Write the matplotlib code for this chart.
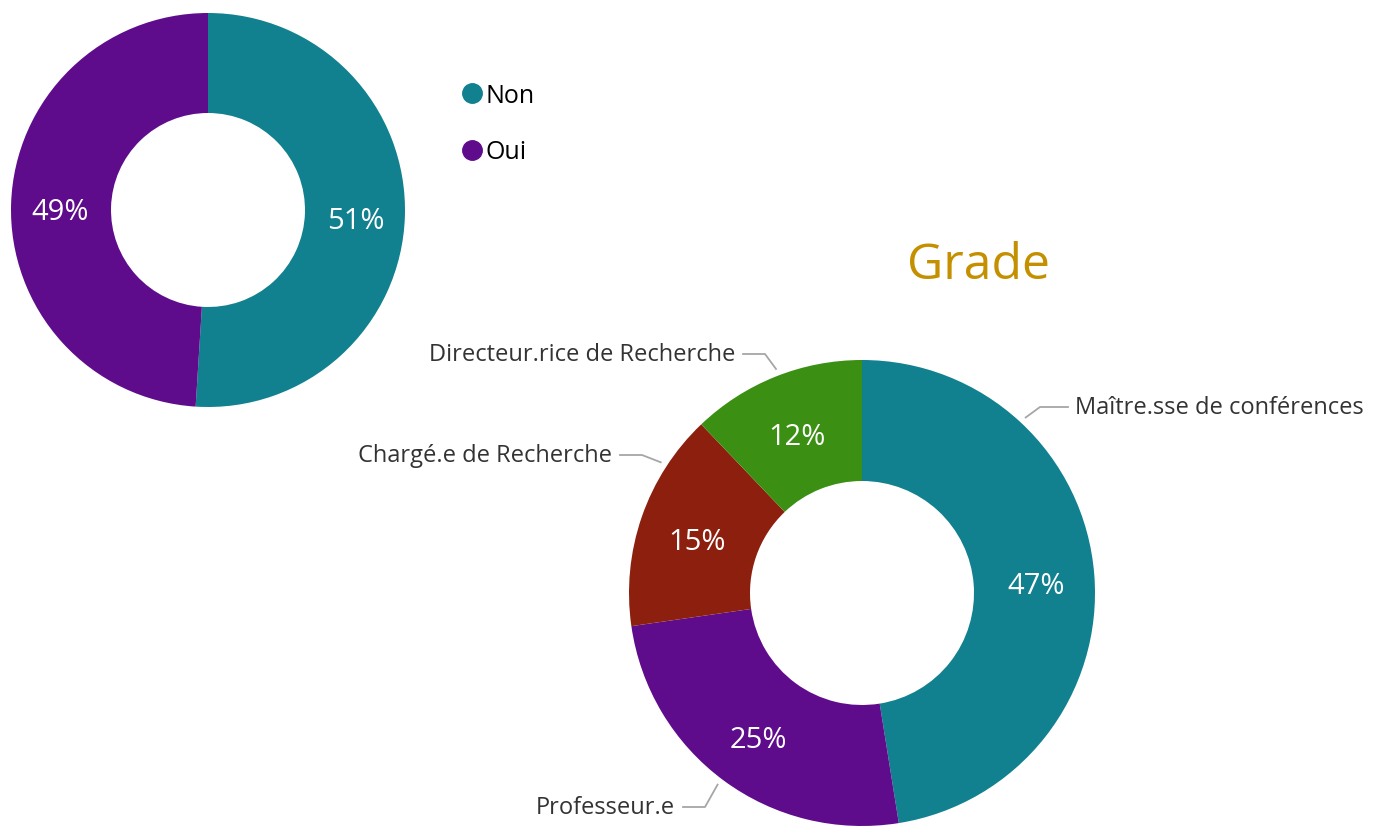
import numpy as np
import matplotlib.pyplot as plt
from matplotlib.lines import Line2D

plt.rcParams['font.family'] = ['Open Sans', 'DejaVu Sans']

# Data
oui_non_labels = ['Non', 'Oui']
oui_non_values = [51, 49]
oui_non_colors = ['#11808f', '#5f0c8c']

grade_labels = ['Maître.sse de conférences', 'Professeur.e',
                'Chargé.e de Recherche', 'Directeur.rice de Recherche']
grade_values = [47, 25, 15, 12]
grade_colors = ['#11808f', '#5f0c8c', '#8c1f0d', '#3b8f12']

W, H = 1374, 828
fig = plt.figure(figsize=(W / 100, H / 100), dpi=100)
ax = fig.add_axes([0, 0, 1, 1])

# first donut
c1, r1 = (208, H - 211), 197
_, _, pct1 = ax.pie(oui_non_values, colors=oui_non_colors, startangle=90, counterclock=False,
                    center=c1, radius=r1, autopct='%1.0f%%', pctdistance=0.75,
                    wedgeprops=dict(width=r1 - 97, linewidth=0),
                    textprops=dict(color='white', fontsize=21))

# second donut
c2, r2 = (862, H - 594), 233
_, _, pct2 = ax.pie(grade_values, colors=grade_colors, startangle=90, counterclock=False,
                    center=c2, radius=r2,
                    autopct=lambda p: f'{p * sum(grade_values) / 100:.0f}%',
                    pctdistance=0.75, wedgeprops=dict(width=r2 - 112, linewidth=0),
                    textprops=dict(color='white', fontsize=21))
for t in list(pct1) + list(pct2):
    x, y = t.get_position()
    t.set_position((x, y - 6))

# category labels with leader lines: (angle on ring, text x, text y, ha)
label_layout = [(47, 1075, 408, 'left'),
                (-127, 675, 808, 'right'),
                (147, 612, 456, 'right'),
                (111, 735, 355, 'right')]
for name, (ang, tx, ty, ha) in zip(grade_labels, label_layout):
    a = np.deg2rad(ang)
    px = c2[0] + 1.03 * r2 * np.cos(a)
    py = c2[1] + 1.03 * r2 * np.sin(a)
    ty = H - ty
    ex = tx - 7 if ha == 'left' else tx + 8
    kx = ex - 28 if ha == 'left' else ex + 22
    ax.plot([px, kx, ex], [py, ty, ty], color='#a6a6a6', lw=1.3)
    ax.text(tx, ty, name, ha=ha, va='center', fontsize=17, color='#333333')

ax.text(979, H - 266, 'Grade', ha='center', va='center', fontsize=36, color='#c49000')

handles = [Line2D([], [], marker='o', ls='', color=c, markersize=14) for c in oui_non_colors]
ax.legend(handles, oui_non_labels, loc='upper left', bbox_to_anchor=(449 / W, 1 - 74 / H),
          frameon=False, fontsize=18, handletextpad=0.05, labelspacing=1.25,
          handlelength=1.0, borderaxespad=0)

ax.set_xlim(0, W)
ax.set_ylim(0, H)
ax.set_aspect('equal')
ax.axis('off')

fig.savefig('out.png', dpi=100, facecolor='white')
